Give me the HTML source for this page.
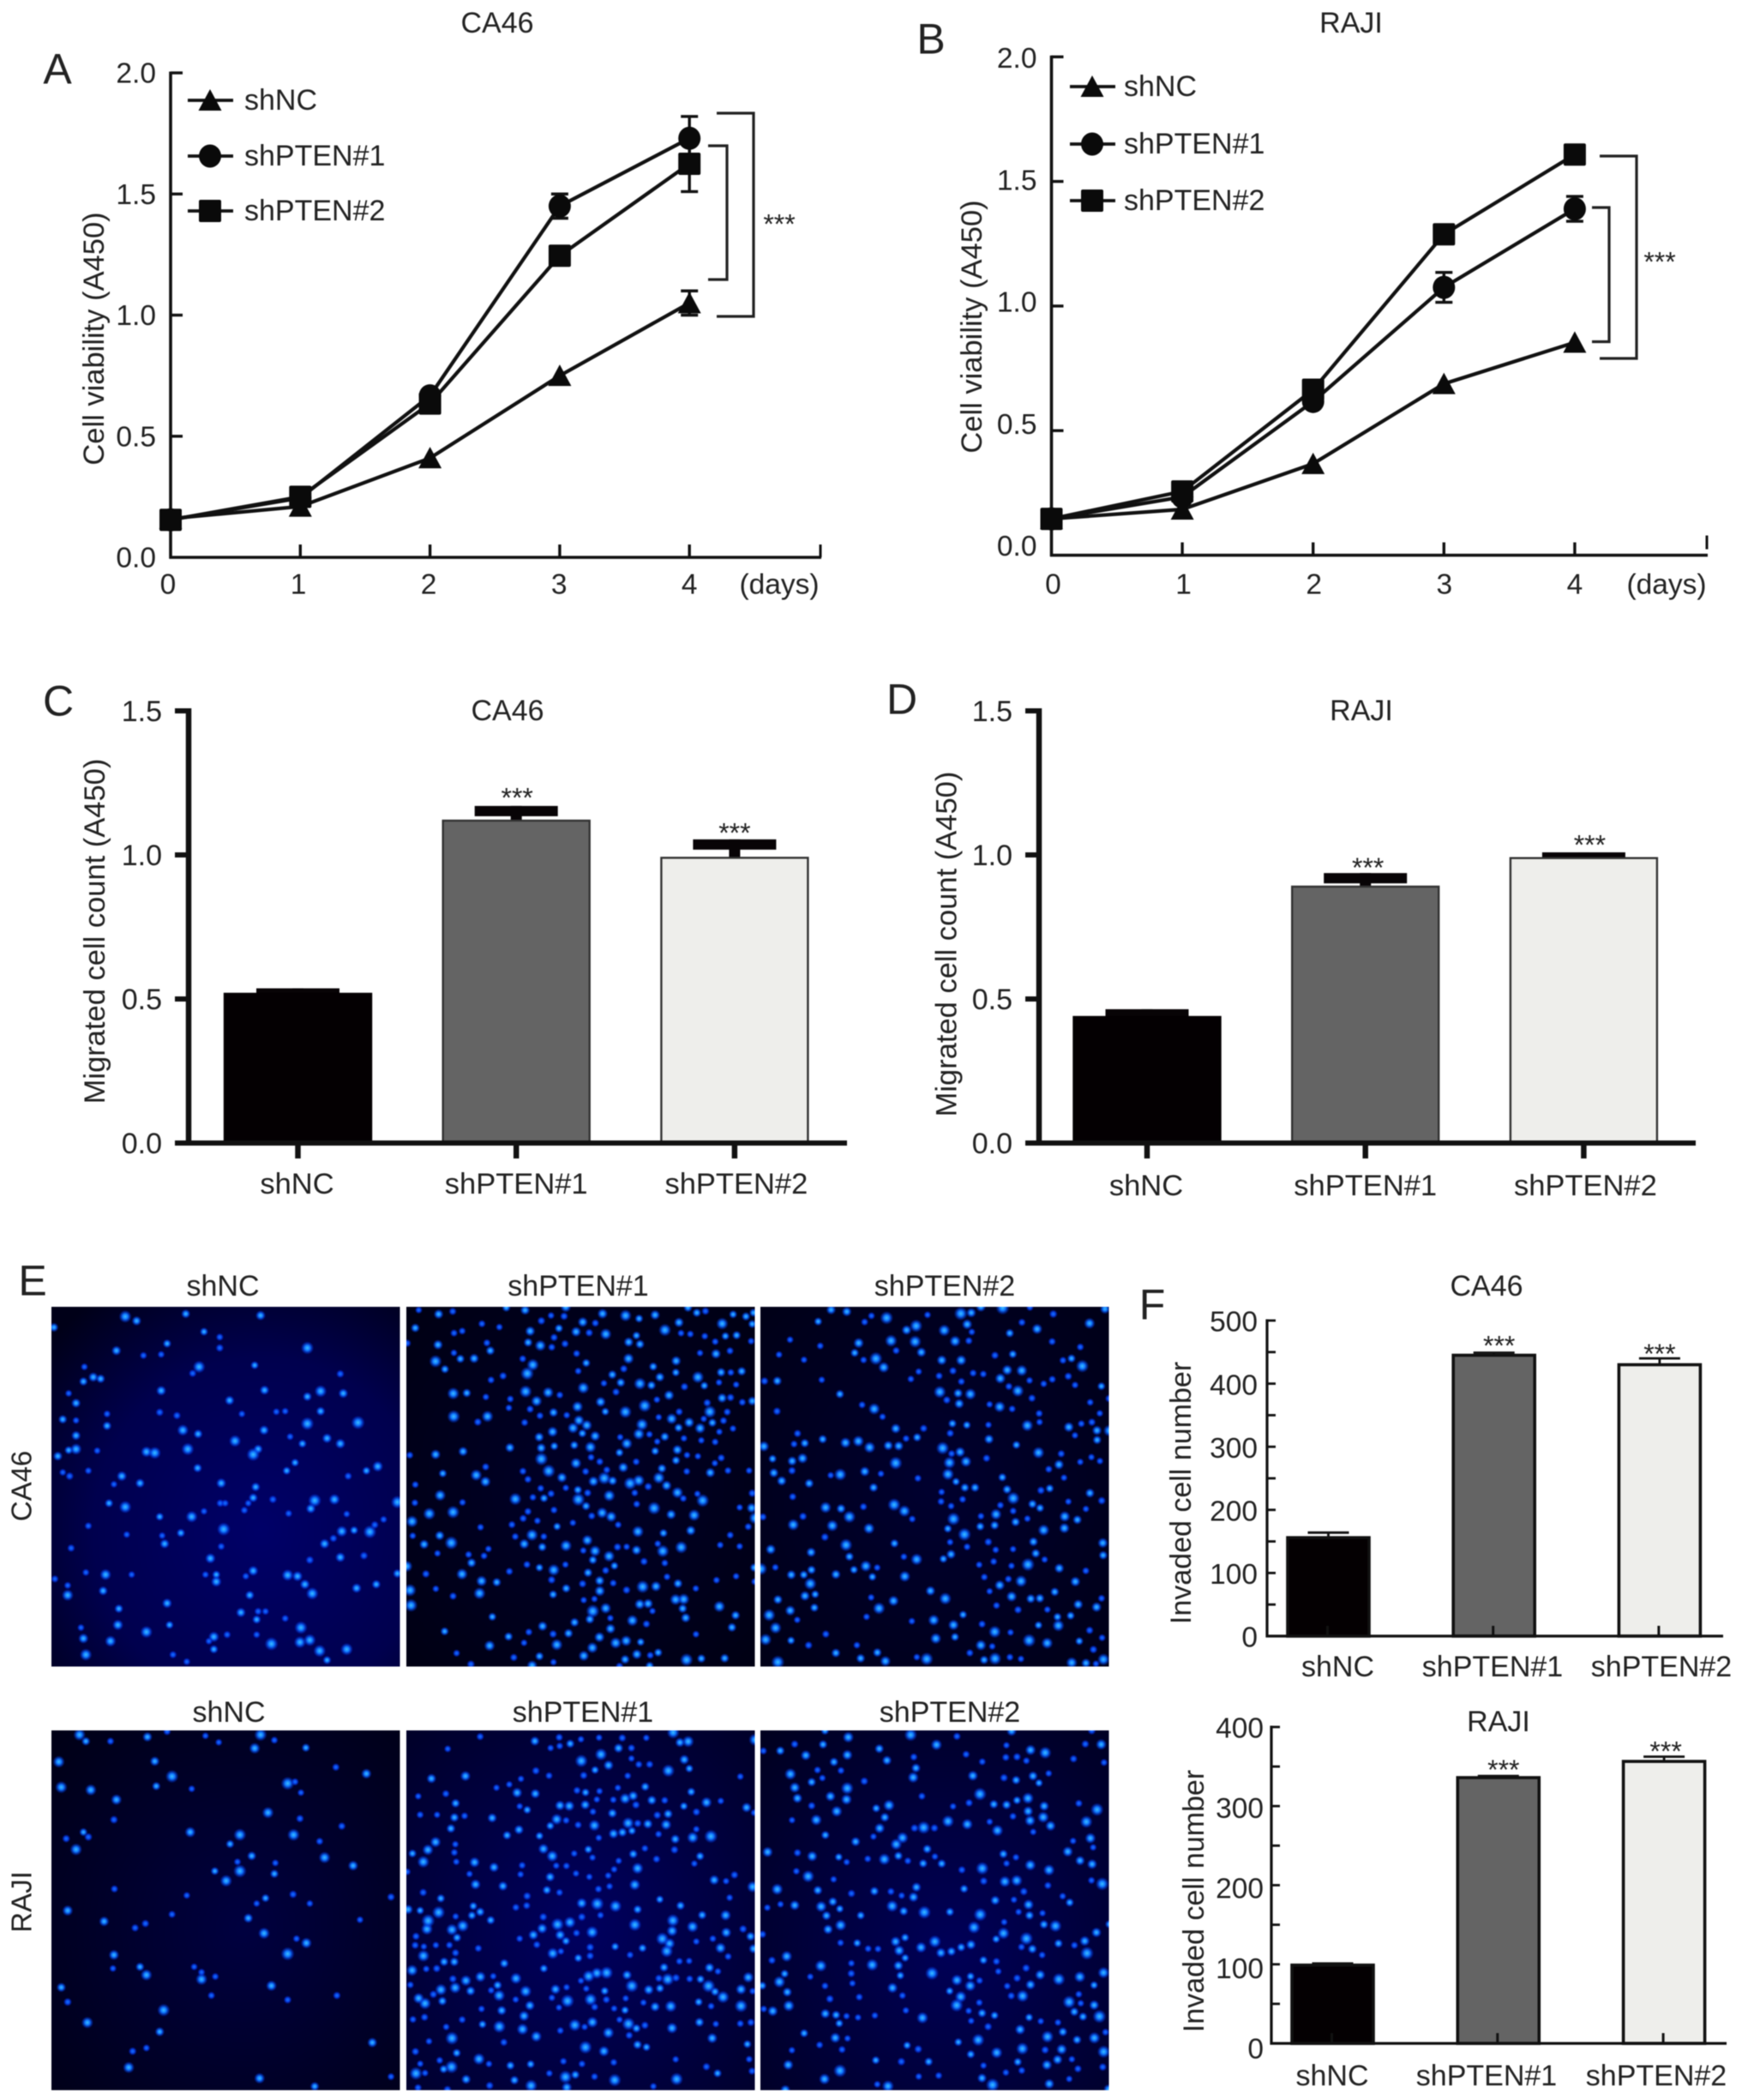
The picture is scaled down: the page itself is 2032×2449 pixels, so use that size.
<!DOCTYPE html>
<html lang="en">
<head>
<meta charset="utf-8">
<title>PTEN knockdown cell viability, migration and invasion</title>
<style>
html,body{margin:0;padding:0;background:#fff;}
#figure{display:block;width:2032px;height:2449px;filter:blur(.6px);}
text{font-family:"Liberation Sans",Arial,sans-serif;fill:#222;}
</style>
</head>
<body>
<svg id="figure" xmlns="http://www.w3.org/2000/svg" width="2032" height="2449" viewBox="0 0 2032 2449">
<defs>
<radialGradient id="dotBright"><stop offset="0" stop-color="#3cc0ff"/><stop offset=".4" stop-color="#1078ff"/><stop offset="1" stop-color="#0030ff" stop-opacity="0"/></radialGradient>
<radialGradient id="dotDim"><stop offset="0" stop-color="#1674ff"/><stop offset=".45" stop-color="#0844e6"/><stop offset="1" stop-color="#0020e0" stop-opacity="0"/></radialGradient>
<radialGradient id="bgA" cx=".6" cy=".62" r=".8"><stop offset="0" stop-color="#000068"/><stop offset=".6" stop-color="#00004e"/><stop offset="1" stop-color="#000018"/></radialGradient>
<radialGradient id="bgB" cx=".5" cy=".5" r=".8"><stop offset="0" stop-color="#00002a"/><stop offset="1" stop-color="#000010"/></radialGradient>
<radialGradient id="bgC" cx=".5" cy=".5" r=".8"><stop offset="0" stop-color="#000030"/><stop offset="1" stop-color="#000014"/></radialGradient>
<radialGradient id="bgD" cx=".55" cy=".55" r=".8"><stop offset="0" stop-color="#000040"/><stop offset="1" stop-color="#000014"/></radialGradient>
<radialGradient id="bgE" cx=".5" cy=".55" r=".8"><stop offset="0" stop-color="#000060"/><stop offset="1" stop-color="#000024"/></radialGradient>
<radialGradient id="bgF" cx=".55" cy=".6" r=".85"><stop offset="0" stop-color="#000058"/><stop offset="1" stop-color="#00001c"/></radialGradient>
</defs>
</svg>
<script>
/* ---------- line chart data ---------- */
const dayCategories = [0, 1, 2, 3, 4];
const viabilityTicks = [0, 0.5, 1, 1.5, 2];
const viabilityTickLabels = ['0.0', '0.5', '1.0', '1.5', '2.0'];
const seriesNames = ['shNC', 'shPTEN#1', 'shPTEN#2'];

const ca46ShNC = [0.16, 0.21, 0.41, 0.75, 1.05];
const ca46ShPten1 = [0.155, 0.245, 0.667, 1.45, 1.73];
const ca46ShPten2 = [0.155, 0.25, 0.635, 1.245, 1.625];
const ca46ShNCErr = [0, 0, 0, 0, 0.05];
const ca46ShPten1Err = [0, 0, 0, 0.05, 0.09];
const ca46ShPten2Err = [0, 0, 0, 0, 0.115];

const rajiShNC = [0.146, 0.184, 0.367, 0.688, 0.854];
const rajiShPten1 = [0.146, 0.234, 0.617, 1.075, 1.39];
const rajiShPten2 = [0.146, 0.256, 0.664, 1.288, 1.608];
const rajiShNCErr = [0, 0, 0, 0, 0];
const rajiShPten1Err = [0, 0, 0, 0.06, 0.05];
const rajiShPten2Err = [0, 0, 0, 0, 0];

/* ---------- bar chart data ---------- */
const groupCategories = ['shNC', 'shPTEN#1', 'shPTEN#2'];
const migrationTicks = [0, 0.5, 1, 1.5];
const migrationTickLabels = ['0.0', '0.5', '1.0', '1.5'];
const migratedCa46 = [0.518, 1.119, 0.99];
const migratedCa46Err = [0.019, 0.051, 0.064];
const migratedRaji = [0.4375, 0.89, 0.989];
const migratedRajiErr = [0.027, 0.047, 0.02];

const invasionCa46Ticks = [0, 50, 100, 150, 200, 250, 300, 350, 400, 450, 500];
const invasionCa46TickLabels = ['0', '', '100', '', '200', '', '300', '', '400', '', '500'];
const invadedCa46 = [156, 445, 430];
const invadedCa46Err = [8, 4, 10];

const invasionRajiTicks = [0, 50, 100, 150, 200, 250, 300, 350, 400];
const invasionRajiTickLabels = ['0', '', '100', '', '200', '', '300', '', '400'];
const invadedRaji = [99, 336, 356.5];
const invadedRajiErr = [2, 2, 6];

const barFills = ['#040002', '#646464', '#eeeeeb'];

/* ---------- micrograph nuclei (field coordinates) ---------- */
const nucleiCa46ShNC = [110,140,255,120,278,128,378,115,530,118,415,148,447,158,447,178,237,183,292,192,328,190,340,170,625,178,172,213,170,240,190,232,205,235,405,213,392,225,518,210,692,226,140,262,155,280,328,257,467,275,538,256,625,268,652,258,698,262,218,300,218,322,325,297,360,303,492,300,562,296,580,295,652,295,625,318,728,316,128,310,155,312,155,340,155,365,140,367,372,330,403,337,537,330,665,345,692,355,590,342,615,355,382,365,478,350,525,365,515,375,298,370,315,372,198,368,118,378,128,408,142,415,180,405,600,390,583,405,402,400,768,397,745,405,708,415,248,415,232,430,285,428,450,428,520,435,515,455,505,465,448,465,255,472,222,465,458,465,415,480,390,490,497,478,555,458,587,484,640,460,632,475,680,458,705,485,808,463,780,495,762,505,752,518,720,515,695,517,678,530,660,540,325,490,180,507,455,513,258,523,330,525,368,520,335,540,145,548,450,545,428,567,630,570,692,565,740,562,418,597,440,597,440,610,515,590,500,600,585,598,605,600,620,615,635,632,725,622,765,615,808,595,175,593,215,597,268,597,112,605,138,617,138,635,210,627,242,660,340,650,508,635,490,667,525,665,540,665,580,678,522,680,612,695,630,718,610,722,650,738,665,755,705,735,435,712,462,708,425,720,435,735,522,708,552,725,345,690,298,703,240,690,225,720,165,695,170,715,175,745,352,745,380,758];
const nucleiRajiShNC = [162,893,175,905,225,905,300,897,340,887,418,895,445,907,518,918,530,893,558,903,622,917,120,943,315,942,350,970,318,988,125,990,185,995,390,993,745,965,683,953,585,983,600,980,612,1000,237,1013,232,1050,545,1037,610,1048,387,1073,135,1085,170,1073,180,1082,155,1105,597,1078,695,1062,488,1078,468,1095,650,1090,512,1117,660,1120,483,1128,488,1145,437,1145,460,1163,560,1130,558,1150,718,1135,233,1178,380,1190,596,1188,540,1195,522,1205,630,1205,795,1193,138,1218,350,1225,505,1232,212,1238,275,1250,296,1242,537,1260,732,1235,603,1270,623,1278,585,1298,232,1300,230,1325,285,1322,298,1337,395,1322,410,1332,410,1345,438,1340,552,1357,430,1375,125,1360,138,1387,685,1375,585,1383,333,1402,178,1425,325,1442,298,1472,270,1478,262,1508,757,1462,528,1528,795,1525,640,1543];

/* local nuclei density of the crowded fields, estimated on a 6x6 grid */
const densityCa46Pten1 = [[.6,.6,.7,.7,.8,.8],[.5,.6,1,.7,.9,1],[.5,.4,.9,1,.9,.6],[.6,.5,.9,.8,.6,.7],[.5,.6,.7,1,.9,.6],[.4,.5,.6,.8,.6,.5]];
const densityCa46Pten2 = [[.5,.6,.7,.8,.6,.7],[.5,.6,.5,1,.7,.8],[.7,.6,.7,.8,.5,.8],[.4,.5,.5,.9,.8,.6],[.6,.3,.5,.7,.8,.5],[.8,.5,.7,.6,.6,.8]];
const densityRajiPten1 = [[.4,.4,.6,1,.5,.3],[.5,.7,.7,.9,.8,.5],[.7,.6,.8,.8,.6,.4],[1,.6,.8,.7,.6,.7],[.7,.7,.6,.9,.7,.8],[.8,.6,.8,.6,.5,.5]];
const densityRajiPten2 = [[.6,.7,.7,.6,.8,.5],[.4,.6,.8,.5,.8,.7],[.8,.6,.8,.6,.9,.6],[.4,.7,.7,.7,1,.7],[.5,.8,.6,.9,1,.8],[.6,.7,.7,.8,.9,.8]];

const svg = document.getElementById('figure');
const NS = 'http://www.w3.org/2000/svg';

function mk(tag, parent, attrs, name) {
  const e = document.createElementNS(NS, tag);
  for (const k in attrs) e.setAttribute(k, attrs[k]);
  
  
  parent.appendChild(e);
  return e;
}
function label(parent, str, cx, cy, size, anchor, name, rotate) {
  const by = cy + size * 0.35;
  const attrs = {x: cx, y: by, 'font-size': size, 'text-anchor': anchor || 'middle'};
  if (rotate) {
    attrs.x = cx + size * 0.35;
    attrs.y = cy;
    attrs.transform = 'rotate(-90 ' + attrs.x + ' ' + cy + ')';
  }
  const t = mk('text', parent, attrs, name);
  t.textContent = str;
  return t;
}
function stars(parent, cx, cy, size, name) {
  const t = mk('text', parent, {x: cx, y: cy + size * 0.585 - 3, 'font-size': size, 'text-anchor': 'middle'}, name);
  t.textContent = '***';
}
function seg(parent, x1, y1, x2, y2, w, name, color) {
  return mk('line', parent, {x1: x1, y1: y1, x2: x2, y2: y2, stroke: color || '#111', 'stroke-width': w}, name);
}
function marker(parent, kind, x, y, name) {
  if (kind === 0) {
    const pts = [[x, y - 13], [x + 13.5, y + 12], [x - 13.5, y + 12]].map(p => p.join(',')).join(' ');
    mk('polygon', parent, {points: pts, fill: '#0a0a0a'}, name);
  } else if (kind === 1) {
    mk('ellipse', parent, {cx: x, cy: y, rx: 13, ry: 13.5, fill: '#0a0a0a'}, name);
  } else {
    mk('rect', parent, {x: x - 13, y: y - 13, width: 26, height: 26, rx: 2, fill: '#0a0a0a'}, name);
  }
}

/* ---------- line charts ---------- */
function lineChart(c) {
  const g = mk('g', svg, {}, c.id);
  const xS = d => c.x0 + d * c.dx;
  const yS = v => c.y0 - v * c.ky;
  seg(g, c.x0, yS(2) - 1.5, c.x0, c.y0 + 1.5, 3.6, 'y-axis');
  seg(g, c.x0 - 1.5, c.y0, c.xEnd, c.y0, 3.6, 'x-axis');
  viabilityTicks.forEach((v, i) => {
    if (v > 0) seg(g, c.x0, yS(v), c.x0 + 14, yS(v), 3.4, 'y-tick');
    const ly = yS(v) + c.labelShift + c.labelSlope * v;
    label(g, viabilityTickLabels[i], c.x0 + c.tickRight, ly, 33.5, 'end', 'y-tick-label');
  });
  dayCategories.forEach(d => {
    if (d > 0) seg(g, xS(d), c.y0, xS(d), c.y0 - 15, 3.4, 'x-tick');
    label(g, String(d), xS(d) + c.xLabelDx * (4 - d) / 4, 681, 33.5, 'middle', 'x-tick-label');
  });
  if (c.endTickGap) {
    seg(g, c.xEnd - 1, c.y0 - 7, c.xEnd - 1, c.y0 - 23, 3, 'x-axis-end-tick');
  } else {
    seg(g, c.xEnd - 1, c.y0, c.xEnd - 1, c.y0 - 15, 3, 'x-axis-end-tick');
  }
  label(g, '(days)', c.daysX, 681, 33.5, 'middle', 'x-axis-unit');
  label(g, c.title, c.titleX, 26, 34, 'middle', 'chart-title');
  label(g, c.letter, c.letterX, c.letterY, 50, 'middle', 'panel-letter');
  label(g, 'Cell viability (A450)', c.ylabelX, c.ylabelY, 34.5, 'middle', 'y-axis-title', true);

  c.series.forEach((s, si) => {
    const pts = s.vals.map((v, i) => xS(dayCategories[i]) + ',' + yS(v)).join(' ');
    mk('polyline', g, {points: pts, fill: 'none', stroke: '#111', 'stroke-width': 4.2}, 'line-' + seriesNames[si]);
    s.vals.forEach((v, i) => {
      if (s.err[i] > 0) {
        const x = xS(dayCategories[i]);
        seg(g, x, yS(v + s.err[i]), x, yS(v - s.err[i]), 3.4, 'error-bar');
        seg(g, x - 10, yS(v + s.err[i]), x + 10, yS(v + s.err[i]), 3.4, 'error-cap-top');
        seg(g, x - 10, yS(v - s.err[i]), x + 10, yS(v - s.err[i]), 3.4, 'error-cap-bottom');
      }
    });
  });
  c.series.forEach((s, si) => {
    s.vals.forEach((v, i) => marker(g, si, xS(dayCategories[i]), yS(v), 'point-' + seriesNames[si]));
  });
  seriesNames.forEach((n, i) => {
    const y = c.legendY[i];
    const eg = mk('g', g, {}, 'legend-entry');
    seg(eg, c.legendX, y, c.legendX + 53, y, 3.8, 'legend-line');
    marker(eg, i, c.legendX + 26, y, 'legend-marker');
    label(eg, n, c.legendLabelX, y - 1, 34, 'start', 'legend-label');
  });
  c.brackets.forEach(b => {
    mk('polyline', g, {points: b.x1 + ',' + b.y1 + ' ' + b.x2 + ',' + b.y1 + ' ' + b.x2 + ',' + b.y2 + ' ' + b.x1 + ',' + b.y2, fill: 'none', stroke: '#222', 'stroke-width': 3.2}, 'significance-bracket');
  });
  stars(g, c.starX, c.starY, 32, 'significance-stars');
}

lineChart({
  id: 'panel-a-viability-ca46', title: 'CA46', letter: 'A', letterX: 67, letterY: 80, titleX: 580,
  x0: 199, dx: 151.3, y0: 650, ky: 282.5, xEnd: 958, tickRight: -17, labelShift: 0, labelSlope: 0, xLabelDx: -3,
  daysX: 909, ylabelX: 109, ylabelY: 395, legendX: 219, legendLabelX: 285, legendY: [117, 182, 246],
  series: [
    {vals: ca46ShNC, err: ca46ShNCErr},
    {vals: ca46ShPten1, err: ca46ShPten1Err},
    {vals: ca46ShPten2, err: ca46ShPten2Err}
  ],
  brackets: [{x1: 836, x2: 879, y1: 132, y2: 369}, {x1: 826, x2: 848, y1: 170, y2: 326}],
  starX: 909, starY: 257
});
lineChart({
  id: 'panel-b-viability-raji', title: 'RAJI', letter: 'B', letterX: 1086, letterY: 45, titleX: 1576,
  x0: 1226.5, dx: 152.6, y0: 647.5, ky: 290.6, xEnd: 1992, tickRight: -17, labelShift: -11, labelSlope: 6, xLabelDx: 2,
  endTickGap: true,
  daysX: 1944, ylabelX: 1133, ylabelY: 381, legendX: 1248, legendLabelX: 1311, legendY: [101, 168, 234],
  series: [
    {vals: rajiShNC, err: rajiShNCErr},
    {vals: rajiShPten1, err: rajiShPten1Err},
    {vals: rajiShPten2, err: rajiShPten2Err}
  ],
  brackets: [{x1: 1866, x2: 1909, y1: 182, y2: 418}, {x1: 1857, x2: 1877, y1: 242, y2: 398.5}],
  starX: 1936, starY: 301
});

/* ---------- large bar charts (C, D) ---------- */
function migrationChart(c) {
  const g = mk('g', svg, {}, c.id);
  const yS = v => c.y0 - v * c.ky;
  const xS = i => c.x1 + i * c.step;
  seg(g, c.x0 - 16, c.y0, c.xEnd, c.y0, 6, 'x-axis');
  seg(g, c.x0, yS(1.5) - 3, c.x0, c.y0 + 3, 6.5, 'y-axis');
  migrationTicks.forEach((v, i) => {
    seg(g, c.x0 - 16, yS(v), c.x0, yS(v), 6, 'y-tick');
    label(g, migrationTickLabels[i], c.x0 - 31, yS(v), 34, 'end', 'y-tick-label');
  });
  c.vals.forEach((v, i) => {
    const x = xS(i);
    const tipY = yS(v + c.err[i]);
    seg(g, x, tipY, x, yS(v), 13, 'error-bar', '#080406');
    mk('rect', g, {x: x - 48.5, y: tipY, width: 97, height: 12, fill: '#080406'}, 'error-cap');
    mk('rect', g, {x: x - 85.5, y: yS(v), width: 171, height: c.y0 - yS(v), fill: barFills[i], stroke: i === 0 ? '#040002' : '#333', 'stroke-width': 2.4}, 'bar-' + groupCategories[i]);
    seg(g, x, c.y0, x, c.y0 + 18, 6.5, 'x-tick');
    label(g, groupCategories[i], x + (i === 2 ? 2 : 0) - (i === 0 ? 1 : 0), c.xLabelY, 34.5, 'middle', 'x-tick-label');
    if (i > 0) stars(g, x + c.starDx[i], yS(v + c.err[i]) - c.starGap[i], 32, 'significance-stars');
  });
  seg(g, c.x0 - 16, c.y0, c.xEnd, c.y0, 6, 'x-axis-front');
  label(g, c.title, c.titleX, 828, 34, 'middle', 'chart-title');
  label(g, c.letter, c.letterX, c.letterY, 50, 'middle', 'panel-letter');
  label(g, 'Migrated cell count (A450)', c.ylabelX, c.ylabelY, 34.5, 'middle', 'y-axis-title', true);
}
migrationChart({
  id: 'panel-c-migration-ca46', title: 'CA46', letter: 'C', letterX: 68, letterY: 817, titleX: 592,
  x0: 220, xEnd: 988, x1: 347.5, step: 254.7, y0: 1333, ky: 336, xLabelY: 1380,
  vals: migratedCa46, err: migratedCa46Err, starDx: [0, 1, 0], starGap: [0, 14, 12],
  ylabelX: 110, ylabelY: 1086
});
migrationChart({
  id: 'panel-d-migration-raji', title: 'RAJI', letter: 'D', letterX: 1052, letterY: 815, titleX: 1588,
  x0: 1212, xEnd: 1978, x1: 1338, step: 254.7, y0: 1333, ky: 336, xLabelY: 1382,
  vals: migratedRaji, err: migratedRajiErr, starDx: [0, 3, 7], starGap: [0, 11, 13],
  ylabelX: 1103.5, ylabelY: 1101
});

/* ---------- small bar charts (F) ---------- */
function invasionChart(c) {
  const g = mk('g', svg, {}, c.id);
  const yS = v => c.y0 - v * c.ky;
  const xS = i => c.x1 + i * c.step;
  const top = c.ticks[c.ticks.length - 1];
  seg(g, c.x0, yS(top) - 1.5, c.x0, c.y0 + 1.5, 3.2, 'y-axis');
  c.ticks.forEach((v, i) => {
    if (v > 0) seg(g, c.x0, yS(v), c.x0 + 10, yS(v), 2.8, 'y-tick');
    if (c.tickLabels[i]) label(g, c.tickLabels[i], c.labelRight, yS(v) + c.labelShift - c.labelSlope * v, 33.5, 'end', 'y-tick-label');
  });
  c.vals.forEach((v, i) => {
    const x = xS(i);
    const tipY = yS(v + c.err[i]);
    seg(g, x, tipY, x, yS(v), 2.8, 'error-bar');
    seg(g, x - 24, tipY, x + 24, tipY, 2.8, 'error-cap');
    mk('rect', g, {x: x - 47.5, y: yS(v), width: 95, height: c.y0 - yS(v), fill: barFills[i], stroke: '#111', 'stroke-width': 3.6}, 'bar-' + groupCategories[i]);
    seg(g, x - 1, c.y0, x - 1, c.y0 - 12, 3, 'x-tick');
    label(g, groupCategories[i], c.labelX[i], c.xLabelY, 34, 'middle', 'x-tick-label');
    if (i > 0) stars(g, x + c.starDx[i], tipY - c.starGap[i], 32, 'significance-stars');
  });
  seg(g, c.x0 - 1.5, c.y0, c.xEnd, c.y0, 3.2, 'x-axis');
  label(g, c.title, c.titleX, c.titleY, 34, 'middle', 'chart-title');
  label(g, 'Invaded cell number', c.ylabelX, c.ylabelY, 34, 'middle', 'y-axis-title', true);
}
invasionChart({
  id: 'panel-f-invasion-ca46', title: 'CA46', titleX: 1734, titleY: 1499,
  x0: 1478, xEnd: 2010, x1: 1549.5, step: 193.2, y0: 1908, ky: 0.736, labelRight: 1467, labelShift: 1, labelSlope: 0,
  ticks: invasionCa46Ticks, tickLabels: invasionCa46TickLabels, vals: invadedCa46, err: invadedCa46Err,
  xLabelY: 1943, labelX: [1560.5, 1741, 1938], starDx: [0, 6, -0], starGap: [0, 13, 10],
  ylabelX: 1377, ylabelY: 1741
});
invasionChart({
  id: 'panel-f-invasion-raji', title: 'RAJI', titleX: 1748, titleY: 2007,
  x0: 1483, xEnd: 2014, x1: 1554.5, step: 193.3, y0: 2383, ky: 0.9225, labelRight: 1474, labelShift: 6, labelSlope: 0.0125,
  ticks: invasionRajiTicks, tickLabels: invasionRajiTickLabels, vals: invadedRaji, err: invadedRajiErr,
  xLabelY: 2420, labelX: [1554, 1734, 1932], starDx: [0, 6, 2], starGap: [0, 12, 11],
  ylabelX: 1392, ylabelY: 2217
});
label(svg, 'F', 1344, 1521, 50, 'middle', 'panel-letter');

/* ---------- micrographs (E) ---------- */
let seed = 20240611;
function rnd() {
  seed = (seed * 1664525 + 1013904223) % 4294967296;
  return seed / 4294967296;
}
function drawDot(p, x, y) {
  const big = rnd();
  const r = 4.6 + big * big * 3.6;
  mk('circle', p, {cx: x, cy: y, r: r, fill: big > 0.4 ? 'url(#dotBright)' : 'url(#dotDim)'}, 'cell-nucleus');
}
function field(px, py, bg, name) {
  const p = mk('svg', svg, {x: px, y: py, width: 406.5, height: 419.5}, name);
  mk('rect', p, {x: 0, y: 0, width: 407, height: 420, fill: 'url(#' + bg + ')'}, 'micrograph-background');
  return p;
}
function plotRead(p, list, oy) {
  for (let i = 0; i < list.length; i += 2) {
    drawDot(p, (list[i] - 105) / 1.742, (list[i + 1] - oy) / 1.585);
  }
}
function scatterDense(p, count, spacing, grid) {
  const placed = [];
  let tries = 0;
  while (placed.length < count && tries < 60000) {
    tries++;
    const x = rnd() * 407;
    const y = rnd() * 420;
    const row = Math.min(5, Math.floor(y / 70));
    const col = Math.min(5, Math.floor(x / 67.9));
    const local = grid[row][col];
    if (rnd() > local * local) continue;
    if (placed.some(q => (q[0] - x) * (q[0] - x) + (q[1] - y) * (q[1] - y) < spacing * spacing)) continue;
    placed.push([x, y]);
    drawDot(p, x, y);
  }
}
const fieldA = field(60, 1524, 'bgA', 'micrograph-ca46-shnc');
plotRead(fieldA, nucleiCa46ShNC, 102);
const fieldB = field(474, 1524, 'bgB', 'micrograph-ca46-shpten1');
scatterDense(fieldB, 360, 9.5, densityCa46Pten1);
const fieldC = field(887, 1524, 'bgC', 'micrograph-ca46-shpten2');
scatterDense(fieldC, 300, 10, densityCa46Pten2);
const fieldD = field(60, 2018, 'bgD', 'micrograph-raji-shnc');
plotRead(fieldD, nucleiRajiShNC, 885);
const fieldE = field(474, 2018, 'bgE', 'micrograph-raji-shpten1');
scatterDense(fieldE, 350, 9.5, densityRajiPten1);
const fieldF = field(887, 2018, 'bgF', 'micrograph-raji-shpten2');
scatterDense(fieldF, 300, 10.5, densityRajiPten2);

[['shNC', 260, 1499], ['shPTEN#1', 674.5, 1499], ['shPTEN#2', 1102, 1499], ['shNC', 267, 1996], ['shPTEN#1', 680, 1996], ['shPTEN#2', 1108, 1996]].forEach(h => {
  label(svg, h[0], h[1], h[2], 34, 'middle', 'micrograph-column-label');
});
label(svg, 'CA46', 25, 1733, 33, 'middle', 'micrograph-row-label', true);
label(svg, 'RAJI', 25, 2218, 33, 'middle', 'micrograph-row-label', true);
label(svg, 'E', 38, 1493, 50, 'middle', 'panel-letter');
</script>
</body>
</html>
